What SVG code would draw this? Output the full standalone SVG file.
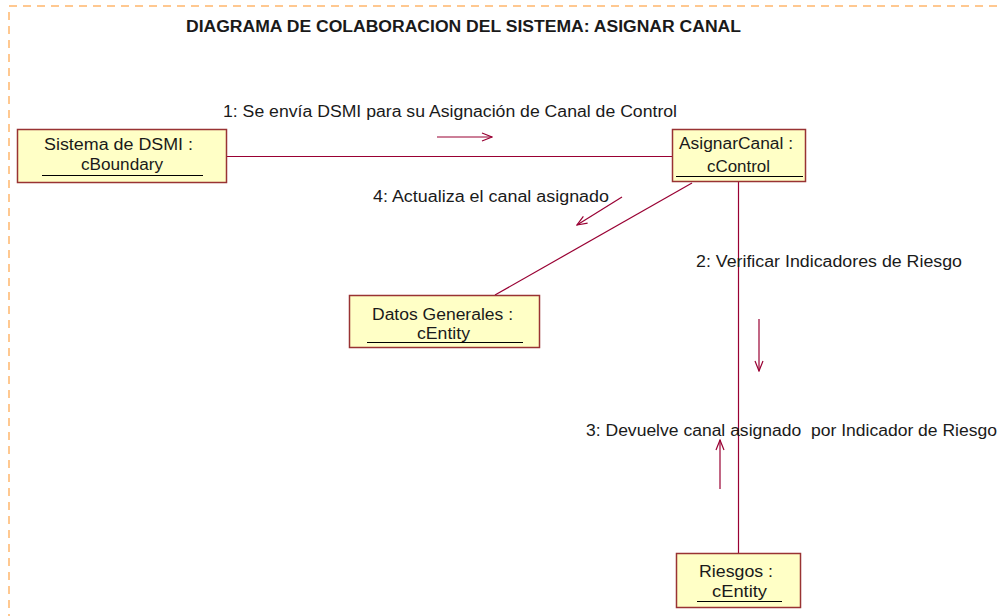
<svg xmlns="http://www.w3.org/2000/svg" width="1003" height="616" viewBox="0 0 1003 616">
<style>
.node rect{fill:#ffffc6;stroke:#993333;stroke-width:1.5}
.node line{stroke:#000;stroke-width:1}
text{font-family:"Liberation Sans",Arial,sans-serif;font-size:16px;fill:#1a1a1a}
.title{font-weight:bold;font-size:16px}
.conn{stroke:#990033;stroke-width:1.2;fill:none}
.msg{stroke:#990033;stroke-width:1.2;fill:none}
</style>
<defs>
<marker id="open" markerWidth="12" markerHeight="10" refX="11" refY="5" orient="auto" markerUnits="userSpaceOnUse">
<path d="M1,1 L11,5 L1,9" fill="none" stroke="#990033" stroke-width="1.2"/>
</marker>
</defs>
<rect width="1003" height="616" fill="#ffffff"/>
<path d="M9,650 L9,6 L1010,6" fill="none" stroke="#ffc890" stroke-width="2" stroke-dasharray="8,6"/>
<text class="title" x="186" y="32" textLength="555" lengthAdjust="spacingAndGlyphs">DIAGRAMA DE COLABORACION DEL SISTEMA: ASIGNAR CANAL</text>
<g id="connectors">
<line class="conn" x1="227" y1="156.5" x2="672" y2="156.5"/>
<line class="conn" x1="692" y1="183" x2="495" y2="295"/>
<line class="conn" x1="738.5" y1="182" x2="738.5" y2="553"/>
<line class="msg" x1="437" y1="137" x2="492" y2="137" marker-end="url(#open)"/>
<line class="msg" x1="622" y1="197" x2="577" y2="225" marker-end="url(#open)"/>
<line class="msg" x1="759" y1="319" x2="759" y2="371" marker-end="url(#open)"/>
<line class="msg" x1="720" y1="489" x2="720" y2="440" marker-end="url(#open)"/>
<text x="223" y="117" textLength="454" lengthAdjust="spacingAndGlyphs">1: Se envía DSMI para su Asignación de Canal de Control</text>
<text x="696" y="267" textLength="266" lengthAdjust="spacingAndGlyphs">2: Verificar Indicadores de Riesgo</text>
<text x="586" y="436" textLength="411" lengthAdjust="spacingAndGlyphs" xml:space="preserve">3: Devuelve canal asignado  por Indicador de Riesgo</text>
<text x="373" y="202" textLength="236" lengthAdjust="spacingAndGlyphs">4: Actualiza el canal asignado</text>
</g>
<g id="sistema" class="node">
<rect x="17.5" y="129.5" width="209" height="53"/>
<text x="44" y="150" textLength="149" lengthAdjust="spacingAndGlyphs">Sistema de DSMI :</text>
<text x="81" y="170" textLength="82" lengthAdjust="spacingAndGlyphs">cBoundary</text>
<line x1="42" y1="175.5" x2="203" y2="175.5"/>
</g>
<g id="asignarcanal" class="node">
<rect x="672.5" y="129.5" width="133" height="52"/>
<text x="679" y="149" textLength="114" lengthAdjust="spacingAndGlyphs">AsignarCanal :</text>
<text x="707" y="172" textLength="63" lengthAdjust="spacingAndGlyphs">cControl</text>
<line x1="676" y1="176.5" x2="803" y2="176.5"/>
</g>
<g id="datosgenerales" class="node">
<rect x="349.5" y="295.5" width="190" height="52"/>
<text x="372" y="320" textLength="141" lengthAdjust="spacingAndGlyphs">Datos Generales :</text>
<text x="417" y="339" textLength="53" lengthAdjust="spacingAndGlyphs">cEntity</text>
<line x1="367" y1="342.5" x2="523" y2="342.5"/>
</g>
<g id="riesgos" class="node">
<rect x="676.5" y="553.5" width="124" height="54"/>
<text x="699" y="577" textLength="74" lengthAdjust="spacingAndGlyphs">Riesgos :</text>
<text x="712" y="597" textLength="55" lengthAdjust="spacingAndGlyphs">cEntity</text>
<line x1="697" y1="601.5" x2="782" y2="601.5"/>
</g>
</svg>
